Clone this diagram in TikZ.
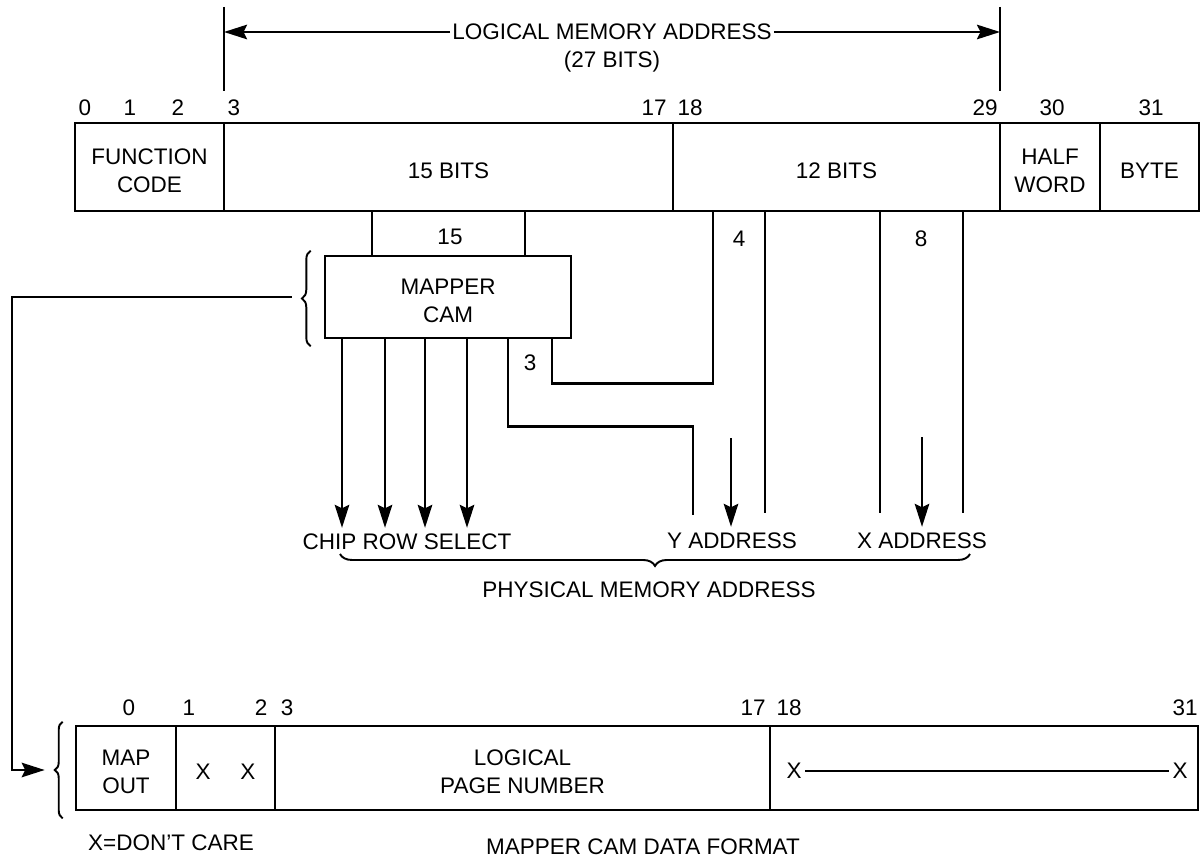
\documentclass[tikz,border=0pt]{standalone}
\usepackage{fontspec}
\setmainfont{Liberation Sans}
\usetikzlibrary{arrows.meta,fit,decorations.pathreplacing}

\tikzset{
  field/.style={draw,line width=1.5pt,inner sep=0pt},
  fieldtext/.style={align=center,yshift=-0.07cm},
  wire/.style={line width=1.35pt},
  sig/.style={wire,-{Stealth[length=4.6mm,width=2.9mm,inset=0.7mm]}},
  brc/.style={line width=1.1pt,decorate,decoration={brace,amplitude=#1}},
  brc/.default=5pt,
}

\begin{document}
\begin{tikzpicture}[x=0.02cm,y=-0.02cm,font=\fontsize{12.8}{16}\selectfont]
\useasboundingbox (0,0) rectangle (1203,861);

% logical address word
\node[field,fit={(75,123)(224,211)}] (fc) {};
\node[field,fit={(224,123)(673,211)}] (b15) {};
\node[field,fit={(673,123)(1000,211)}] (b12) {};
\node[field,fit={(1000,123)(1100,211)}] (hw) {};
\node[field,fit={(1100,123)(1199,211)}] (byte) {};
\foreach \f/\t in {fc/{FUNCTION\\CODE},b15/15 BITS,b12/12 BITS,hw/{HALF\\WORD},byte/BYTE}
  \node[fieldtext] (\f-t) at (\f) {\t};
\foreach \n/\x in {0/85,1/130,2/178,3/234,17/654,18/690,29/985,30/1052,31/1151}
  \node (ta\n) at (\x,108) {\n};

\coordinate (la) at (224,7);
\coordinate (lb) at (1000,7);
\draw[wire] (la) -- ++(0,84);
\draw[wire] (lb) -- ++(0,84);
\node[inner sep=1pt] (lma) at (612,32) {LOGICAL MEMORY ADDRESS};
\node (lmb) at (612,62) {(27 BITS)};
\draw[sig] (lma.west) -- (lma.west -| la);
\draw[sig] (lma.east) -- (lma.east -| lb);

% mapper CAM
\node[field,fit={(325,256)(571,338)}] (cam) {};
\node[fieldtext] (cam-t) at (cam) {MAPPER\\CAM};
\foreach \x in {372,525}
  \draw[wire] (b15.south -| \x,0) -- (cam.north -| \x,0);
\node (n15) at (450,237) {15};
\draw[brc] ([shift={(-13,7)}]cam.south west) -- ([shift={(-13,-4)}]cam.north west);
\coordinate (camtip) at ([shift={(-32,0)}]cam.west);

\node (crs) at (407,542) {CHIP ROW SELECT};
\foreach \x in {342,385,425,467}
  \draw[sig] (cam.south -| \x,0) -- (crs.north -| \x,0);

% Y address
\node (yad) at (732,541) {Y ADDRESS};
\coordinate (ye1) at (693,515);
\coordinate (ye2) at (765,513);
\coordinate (ya) at (731,438);
\draw[wire] (cam.south -| 552,0) -- ++(0,44) -| (b12.south -| 713,0);
\draw[wire] (cam.south -| 508,0) -- ++(0,87) -| (ye1);
\draw[wire] (b12.south -| ye2) -- (ye2);
\draw[sig] (ya) -- (yad.north -| ya);
\node (n3) at (530,363) {3};
\node (n4) at (739,239) {4};

% X address
\node (xad) at (922,541) {X ADDRESS};
\coordinate (xe1) at (880,513);
\coordinate (xe2) at (963,513);
\coordinate (xa) at (922,437);
\draw[wire] (b12.south -| xe1) -- (xe1);
\draw[wire] (b12.south -| xe2) -- (xe2);
\draw[sig] (xa) -- (xad.north -| xa);
\node (n8) at (921,239) {8};

\draw[brc=6.8pt] (970,554) -- (340,554);
\node (pma) at (649,590) {PHYSICAL MEMORY ADDRESS};

% mapper CAM data format
\node[field,fit={(76,726)(176,810)}] (mo) {};
\node[field,fit={(176,726)(275,810)}] (dx) {};
\node[field,fit={(275,726)(770,810)}] (lpn) {};
\node[field,fit={(770,726)(1198,810)}] (dc) {};
\foreach \f/\t in {mo/{MAP\\OUT},dx/{X\hspace{17pt}X},lpn/{LOGICAL\\PAGE NUMBER}}
  \node[fieldtext] (\f-t) at (\f) {\t};
\node[inner sep=2pt] (xl) at (794,771) {X};
\node[inner sep=2pt] (xr) at (1180,771) {X};
\draw[line width=1pt] (xl) -- (xr);
\foreach \n/\x in {0/129,1/189,2/261,3/287,17/753,18/789,31/1185}
  \node (tb\n) at (\x,708) {\n};
\draw[brc=4.5pt] ([shift={(-12,7)}]mo.south west) -- ([shift={(-12,-3)}]mo.north west);
\coordinate (maptip) at ([shift={(-30,2)}]mo.west);

\coordinate (fb) at (12,0);
\draw[sig] (camtip) -| (fb |- maptip) -- (maptip);

\node (dcare) at (171,843) {X{=}DON'T CARE};
\node (fmt) at (643,847) {MAPPER CAM DATA FORMAT};
\end{tikzpicture}
\end{document}
